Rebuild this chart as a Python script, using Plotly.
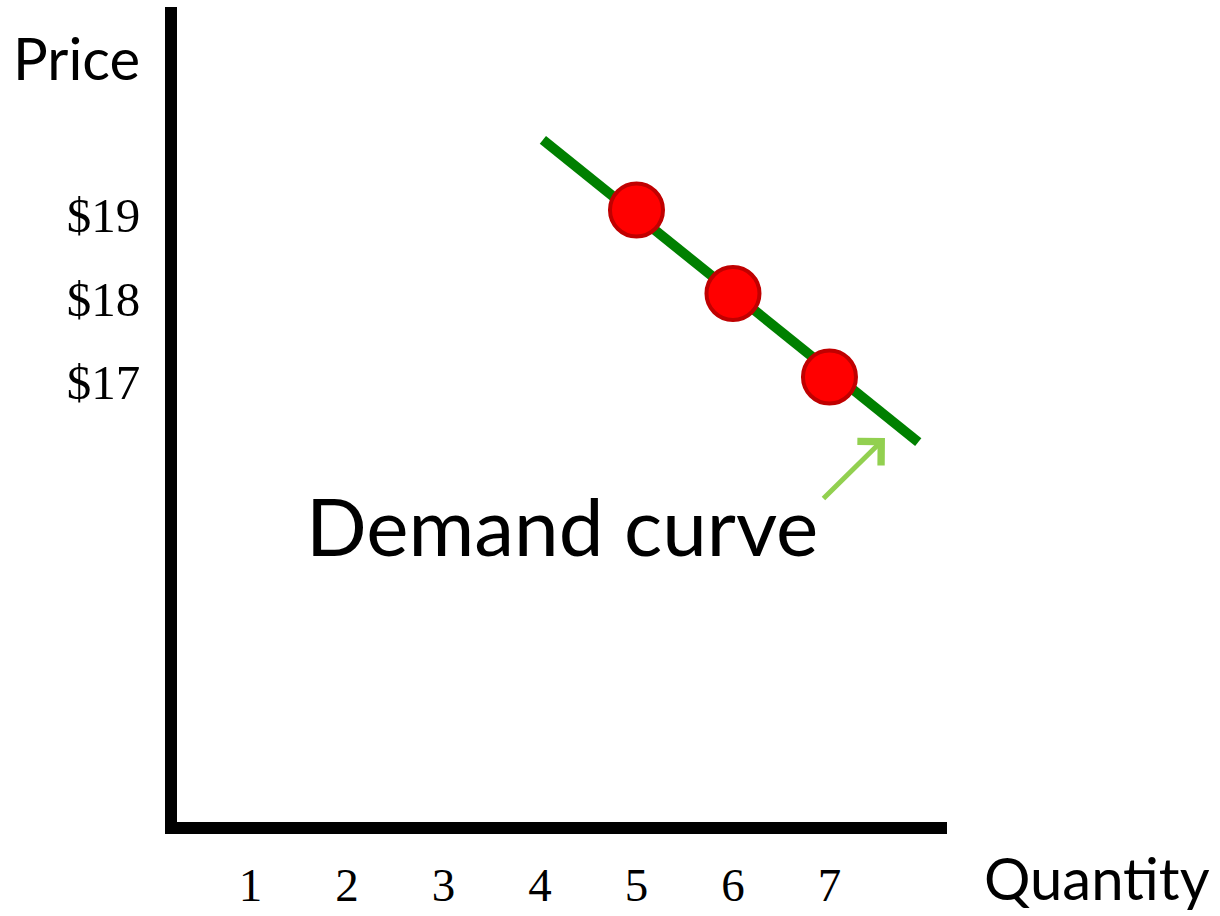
import plotly.graph_objects as go

# ---- data ----
quantity_ticks = [1, 2, 3, 4, 5, 6, 7]
price_ticks = [17, 18, 19]
price_labels = ["$17", "$18", "$19"]

point_quantity = [5, 6, 7]
point_price = [19, 18, 17]

demand_quantity = [4.03, 7.92]
demand_price = [19.84, 16.22]

arrow_head = (7.575, 16.27)

W, H = 1220, 916
L, R, T, B = 177, 947, 7, 822

fig = go.Figure()
fig.add_trace(go.Scatter(
    x=demand_quantity, y=demand_price, mode="lines",
    line=dict(color="#008000", width=10), hoverinfo="skip", showlegend=False))
fig.add_trace(go.Scatter(
    x=point_quantity, y=point_price, mode="markers",
    marker=dict(size=53, color="#ff0000", line=dict(color="#c00000", width=4)),
    showlegend=False))

def px(xp):
    return (xp - L) / (R - L)

def py(yp):
    return (B - yp) / (B - T)

ann_font = "Lato"
fig.add_annotation(x=px(76), y=py(58), xref="paper", yref="paper", text="Price",
                   showarrow=False, font=dict(family=ann_font, size=58, color="black"),
                   xanchor="center", yanchor="middle")
fig.add_annotation(x=px(1097), y=py(877), xref="paper", yref="paper", text="Quantity",
                   showarrow=False, font=dict(family=ann_font, size=58, color="black"),
                   xanchor="center", yanchor="middle")
fig.add_annotation(x=px(562), y=py(525), xref="paper", yref="paper", text="Demand curve",
                   showarrow=False, font=dict(family=ann_font, size=80, color="black"),
                   xanchor="center", yanchor="middle")
fig.add_annotation(x=arrow_head[0], y=arrow_head[1], xref="x", yref="y", text="",
                   showarrow=True, ax=-63, ay=62, arrowcolor="#92d050",
                   arrowwidth=5, arrowhead=4, arrowsize=1.3)

fig.update_xaxes(range=[0.238, 8.218], showline=True, linewidth=12, linecolor="black",
                 showgrid=False, zeroline=False, ticks="", automargin=False,
                 tickmode="array", tickvals=quantity_ticks,
                 tickfont=dict(family="Liberation Serif", size=47, color="black"),
                 ticklabelstandoff=11,
                 fixedrange=True)
fig.update_yaxes(range=[11.671, 21.431], showline=True, linewidth=12, linecolor="black",
                 showgrid=False, zeroline=False, ticks="", automargin=False,
                 tickmode="array", tickvals=price_ticks, ticktext=price_labels,
                 tickfont=dict(family="Liberation Serif", size=49, color="black"),
                 ticklabelstandoff=15, ticklabelshift=5,
                 fixedrange=True)
fig.update_layout(width=W, height=H, margin=dict(l=L, r=W - R, t=T, b=H - B),
                  plot_bgcolor="white", paper_bgcolor="white")
fig.write_html("out.html", config={"displayModeBar": False},
               post_script="document.body.style.margin='0';")
